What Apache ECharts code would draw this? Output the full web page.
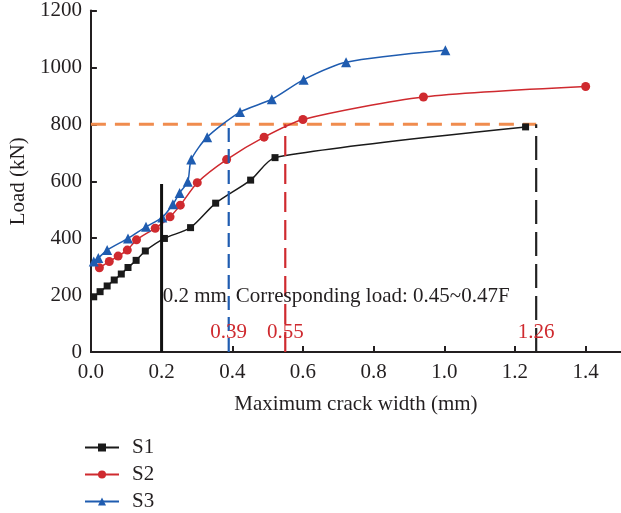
<!DOCTYPE html>
<html>
<head>
<meta charset="utf-8">
<title>Load vs maximum crack width</title>
<script src="https://cdn.jsdelivr.net/npm/echarts@6/dist/echarts.min.js"></script>
<style>
  html, body { margin: 0; padding: 0; background: #fff; }
  #chart { width: 621px; height: 513px; }
</style>
</head>
<body>
<div id="chart"></div>
<script>
// Measured crack width (mm) and load (kN) for the three specimens
const crackWidthS1 = [0.008, 0.026, 0.046, 0.066, 0.086, 0.105, 0.128, 0.154, 0.208, 0.282, 0.353, 0.452, 0.521, 1.23];
const loadS1       = [194, 212, 232, 253, 274, 297, 322, 355, 399, 437, 523, 604, 683, 791];

const crackWidthS2 = [0.024, 0.052, 0.077, 0.103, 0.129, 0.182, 0.224, 0.253, 0.301, 0.384, 0.49, 0.6, 0.941, 1.4];
const loadS2       = [296, 318, 337, 358, 394, 435, 475, 516, 595, 676, 755, 817, 896, 933];

const crackWidthS3 = [0.008, 0.021, 0.046, 0.105, 0.156, 0.202, 0.232, 0.251, 0.274, 0.284, 0.329, 0.422, 0.512, 0.602, 0.722, 1.003];
const loadS3       = [318, 330, 358, 399, 440, 473, 519, 559, 598, 676, 755, 843, 888, 957, 1018, 1060];

// Reference lines: crack-width limit and reference load level
const crackLimit = 0.2;          // mm
const crackLimitLineTop = 590;   // kN
const referenceLoad = 800;       // kN
const widthAtReferenceS3 = 0.39; // mm
const widthAtReferenceS2 = 0.55; // mm
const widthAtReferenceS1 = 1.26; // mm

// Axis ticks
const xTicks = [0, 0.2, 0.4, 0.6, 0.8, 1.0, 1.2, 1.4];
const yTicks = [0, 200, 400, 600, 800, 1000, 1200];

const seriesNames = ['S1', 'S2', 'S3'];

const FONT = '"Liberation Serif", "Times New Roman", serif';
const FS = 21;
const INK = '#231f20';
const RED = '#cf2a2f';
const BLUE = '#1f5cb0';
const ORANGE = '#f08c4e';

const zip = (xs, ys) => xs.map((x, i) => [x, ys[i]]);

const chart = echarts.init(document.getElementById('chart'), null, { renderer: 'canvas' });

function vline(x, top, color, type, width, z) {
  return {
    type: 'line', silent: true, symbol: 'none', z: z || 3,
    data: [[x, 0], [x, top]],
    lineStyle: { color, type, width }
  };
}

// Text annotation anchored at a data coordinate
function note(text, x, y, color, align) {
  return {
    type: 'scatter', silent: true, symbolSize: 0, z: 6,
    data: [[x, y]],
    itemStyle: { color: 'transparent', opacity: 1 },
    label: {
      show: true, position: 'inside', formatter: text, opacity: 1,
      color, fontFamily: FONT, fontSize: FS, align: align || 'center',
      verticalAlign: 'middle', textBorderWidth: 0, textBorderColor: 'transparent'
    }
  };
}

const option = {
  animation: false,
  backgroundColor: '#fff',
  grid: { left: 84.5, top: 10, width: 540, height: 342, containLabel: false },
  xAxis: {
    type: 'value', min: 0, max: 1.5, interval: 0.2,
    name: 'Maximum crack width (mm)', nameLocation: 'middle', nameGap: 42,
    nameTextStyle: { fontFamily: FONT, fontSize: FS, color: INK },
    axisLine: { show: true, lineStyle: { color: INK, width: 2 } },
    axisTick: { show: true, inside: true, length: 6, lineStyle: { color: INK, width: 2 },
      customValues: xTicks },
    axisLabel: { fontFamily: FONT, fontSize: FS, color: INK, margin: 10,
      customValues: xTicks,
      formatter: v => v.toFixed(1) },
    splitLine: { show: false }
  },
  yAxis: {
    type: 'value', min: 0, max: 1200, interval: 200,
    name: 'Load (kN)', nameLocation: 'middle', nameGap: 58,
    nameTextStyle: { fontFamily: FONT, fontSize: FS, color: INK },
    axisLine: { show: true, lineStyle: { color: INK, width: 2 } },
    axisTick: { show: true, inside: true, length: 6, lineStyle: { color: INK, width: 2 },
      customValues: yTicks },
    axisLabel: { fontFamily: FONT, fontSize: FS, color: INK, margin: 9,
      customValues: yTicks,
      formatter: v => String(v) },
    splitLine: { show: false }
  },
  legend: {
    data: seriesNames,
    orient: 'vertical', left: 84, top: 437, height: 120, padding: 0,
    itemWidth: 34, itemHeight: 10, itemGap: 6,
    textStyle: { fontFamily: FONT, fontSize: FS, color: INK, padding: [0, 0, 0, 8] }
  },
  series: [
    {
      name: 'S1', type: 'line', data: zip(crackWidthS1, loadS1), smooth: 0.25, z: 4,
      symbol: 'rect', symbolSize: 7,
      lineStyle: { color: '#1a1a1a', width: 1.5 },
      itemStyle: { color: '#1a1a1a' }
    },
    {
      name: 'S2', type: 'line', data: zip(crackWidthS2, loadS2), smooth: 0.25, z: 4,
      symbol: 'circle', symbolSize: 9,
      lineStyle: { color: RED, width: 1.5 },
      itemStyle: { color: RED }
    },
    {
      name: 'S3', type: 'line', data: zip(crackWidthS3, loadS3), smooth: 0.25, z: 4,
      symbol: 'triangle', symbolSize: 10,
      lineStyle: { color: BLUE, width: 1.5 },
      itemStyle: { color: BLUE }
    },
    // reference load level across to S1
    {
      type: 'line', silent: true, symbol: 'none', z: 3,
      data: [[0, referenceLoad], [widthAtReferenceS1, referenceLoad]],
      lineStyle: { color: ORANGE, type: [15, 9], width: 3 }
    },
    vline(crackLimit, crackLimitLineTop, '#111', 'solid', 3, 5),
    vline(widthAtReferenceS3, referenceLoad, BLUE, [14, 7], 2.2, 5),
    vline(widthAtReferenceS2, referenceLoad, RED, [20, 8], 2.2, 5),
    vline(widthAtReferenceS1, referenceLoad, '#222', [24, 8], 2.2, 5),
    note('0.2 mm', crackLimit + 0.003, 196, INK, 'left'),
    note('Corresponding load: 0.45~0.47F', 0.41, 196, INK, 'left'),
    note(String(widthAtReferenceS3), widthAtReferenceS3, 70, RED),
    note(String(widthAtReferenceS2), widthAtReferenceS2, 70, RED),
    note(String(widthAtReferenceS1), widthAtReferenceS1, 70, RED)
  ]
};

chart.setOption(option);
</script>
</body>
</html>
